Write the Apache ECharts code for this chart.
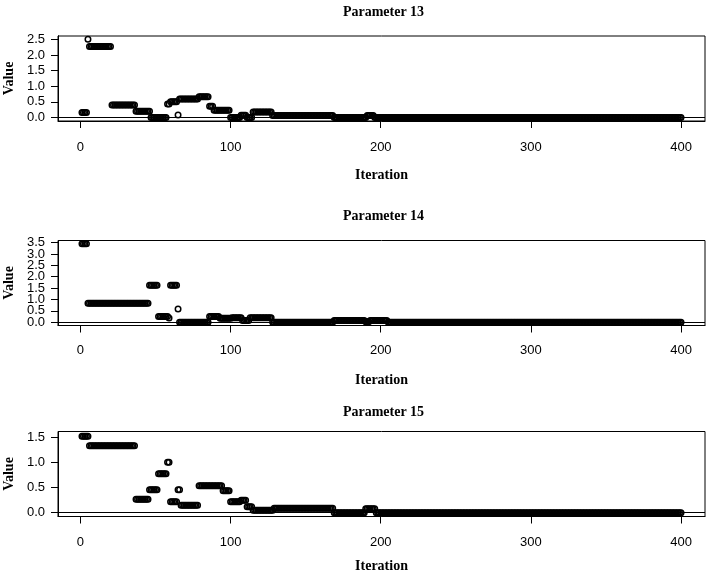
<!DOCTYPE html>
<html>
<head>
<meta charset="utf-8">
<script src="https://cdn.jsdelivr.net/npm/echarts@6/dist/echarts.min.js"></script>
<style>
html,body{margin:0;padding:0;background:#fff;}
#chart{width:709px;height:572px;}
</style>
</head>
<body>
<div id="chart"></div>
<script>
// ---- data (step runs: iterations start..end hold value) ----
const titles = ['Parameter 13', 'Parameter 14', 'Parameter 15'];
const iterationTicks = [0, 100, 200, 300, 400];

const p13Start = [1, 5, 6, 21, 37, 47, 58, 60, 65, 66, 79, 86, 89, 100, 107, 111, 115, 128, 169, 191, 196];
const p13End   = [4, 5, 20, 36, 46, 57, 59, 64, 65, 78, 85, 88, 99, 106, 110, 114, 127, 168, 190, 195, 400];
const p13Value = [0.16, 2.5, 2.27, 0.40, 0.20, 0.0, 0.43, 0.50, 0.08, 0.59, 0.66, 0.36, 0.23, 0.0, 0.07, 0.0, 0.17, 0.06, 0.0, 0.06, 0.0];
const p13TicksA = [0, 1.0, 2.0];
const p13TicksB = [0.5, 1.5, 2.5];

const p14Start = [1, 5, 46, 52, 59, 60, 65, 66, 86, 93, 101, 108, 113, 128, 169, 190, 193, 205];
const p14End   = [4, 45, 51, 58, 59, 64, 65, 85, 92, 100, 107, 112, 127, 168, 189, 192, 204, 400];
const p14Value = [3.45, 0.83, 1.62, 0.25, 0.18, 1.62, 0.58, 0.0, 0.25, 0.17, 0.20, 0.08, 0.20, 0.0, 0.08, 0.02, 0.08, 0.0];
const p14TicksA = [0, 1.0, 2.0, 3.0];
const p14TicksB = [0.5, 1.5, 2.5, 3.5];

const p15Start = [1, 6, 37, 46, 52, 58, 60, 65, 67, 79, 95, 100, 107, 111, 115, 129, 169, 190, 197];
const p15End   = [5, 36, 45, 51, 57, 59, 64, 66, 78, 94, 99, 106, 110, 114, 128, 168, 189, 196, 400];
const p15Value = [1.52, 1.33, 0.26, 0.45, 0.77, 1.0, 0.21, 0.45, 0.14, 0.53, 0.43, 0.21, 0.24, 0.11, 0.04, 0.08, -0.01, 0.07, -0.01];
const p15TicksA = [0, 1.0];
const p15TicksB = [0.5, 1.5];

function expand(starts, ends, values) {
  const out = [];
  for (let k = 0; k < starts.length; k++) {
    for (let it = starts[k]; it <= ends[k]; it++) out.push([it, values[k]]);
  }
  return out;
}

const panels = [
  {data: expand(p13Start, p13End, p13Value), ticksA: p13TicksA, ticksB: p13TicksB, ymin: -0.115, ymax: 2.606},
  {data: expand(p14Start, p14End, p14Value), ticksA: p14TicksA, ticksB: p14TicksB, ymin: -0.145, ymax: 3.59},
  {data: expand(p15Start, p15End, p15Value), ticksA: p15TicksA, ticksB: p15TicksB, ymin: -0.087, ymax: 1.613}
];

const gridTops = [36, 240.5, 431.5];
const titleTops = [5, 209, 405];
const nameGaps = [47, 48, 43];
const labelMargins = [20, 18, 19];
const plotLeft = 58, plotWidth = 647, plotHeight = 85;

const serif = 'Liberation Serif, Times New Roman, serif';
const sans = 'Liberation Sans, Arial, sans-serif';
const tickColor = '#000';

function yAxisFor(p, i, ticks, withName) {
  return {
    gridIndex: i, type: 'value', min: p.ymin, max: p.ymax, position: 'left', offset: 0,
    axisLine: {show: true, onZero: false, lineStyle: {color: '#000', width: 1}},
    axisTick: {show: true, inside: false, length: 7, customValues: ticks, lineStyle: {color: tickColor, width: 1}},
    axisLabel: {customValues: ticks, margin: 13, fontSize: 13, color: '#000', fontFamily: sans,
      showMinLabel: true, showMaxLabel: true, hideOverlap: false,
      formatter: v => Number(v).toFixed(1)},
    splitLine: {show: false},
    name: withName ? 'Value' : '', nameLocation: 'middle', nameGap: 42, nameRotate: 90,
    nameTextStyle: {fontFamily: serif, fontWeight: 'bold', fontSize: 14, color: '#000'}
  };
}

const yAxes = [];
panels.forEach((p, i) => {
  yAxes.push(yAxisFor(p, i, p.ticksA, true));
  yAxes.push(yAxisFor(p, i, p.ticksB, false));
});

const option = {
  animation: false,
  backgroundColor: '#fff',
  title: titles.map((t, i) => ({
    text: t,
    left: plotLeft + plotWidth / 2 + 2,
    top: titleTops[i],
    padding: 0,
    textAlign: 'center',
    textStyle: {fontFamily: serif, fontWeight: 'bold', fontSize: 14, color: '#000'}
  })),
  grid: panels.map((p, i) => ({
    left: plotLeft, width: plotWidth, top: gridTops[i], height: plotHeight,
    containLabel: false, outerBoundsMode: 'none',
    show: true, borderColor: '#000', borderWidth: 1, backgroundColor: 'transparent'
  })),
  xAxis: panels.map((p, i) => ({
    gridIndex: i, type: 'value', min: -14.96, max: 415.96,
    axisLine: {show: true, onZero: false, lineStyle: {color: '#000', width: 1}},
    axisTick: {show: true, inside: false, length: 7, customValues: iterationTicks, lineStyle: {color: tickColor, width: 1}},
    axisLabel: {customValues: iterationTicks, margin: labelMargins[i], fontSize: 13, color: '#000', fontFamily: sans,
      showMinLabel: true, showMaxLabel: true, hideOverlap: false},
    splitLine: {show: false},
    name: 'Iteration', nameLocation: 'middle', nameGap: nameGaps[i],
    nameTextStyle: {fontFamily: serif, fontWeight: 'bold', fontSize: 14, color: '#000'}
  })),
  yAxis: yAxes,
  series: panels.map((p, i) => ({
    type: 'scatter', xAxisIndex: i, yAxisIndex: 2 * i,
    data: p.data,
    symbol: 'circle', symbolSize: 5.5,
    itemStyle: {color: 'rgba(0,0,0,0)', borderColor: '#000', borderWidth: 1.5, opacity: 1},
    emphasis: {disabled: true},
    silent: true,
    markLine: {
      silent: true, symbol: 'none', animation: false,
      label: {show: false},
      lineStyle: {color: '#000', width: 1, type: 'solid'},
      data: [{yAxis: 0}]
    }
  }))
};

const chart = echarts.init(document.getElementById('chart'), null, {renderer: 'canvas'});
chart.setOption(option);
</script>
</body>
</html>
